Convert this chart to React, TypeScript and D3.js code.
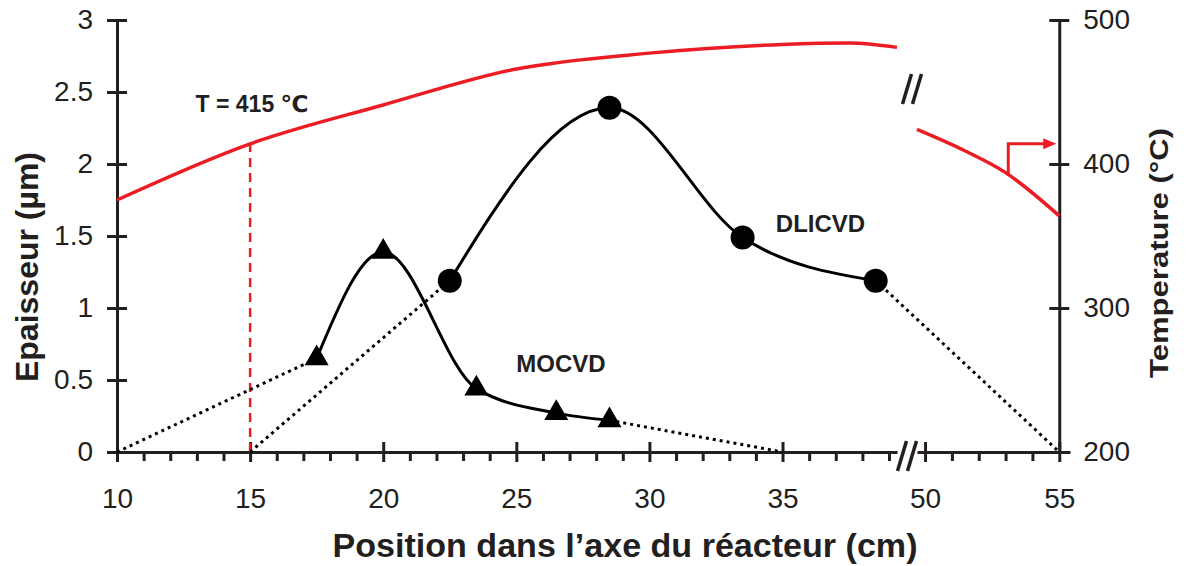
import { useEffect, useRef } from 'react'
import * as d3 from 'd3'

// thickness profiles (µm) along the reactor axis (cm)
const mocvdPos = [17.5, 20, 23.5, 26.5, 28.5]
const mocvdThk = [0.65, 1.39, 0.44, 0.27, 0.22]
const dlicvdPos = [22.5, 28.5, 33.5, 38.5]
const dlicvdThk = [1.19, 2.39, 1.49, 1.19]

// dotted extrapolations down to zero thickness
const mocvdDotted: [number, number][][] = [
  [[10, 0], [17.5, 0.65]],
  [[28.5, 0.22], [35, 0]]
]
const dlicvdDotted: [number, number][][] = [
  [[15, 0], [22.5, 1.19]],
  [[38.5, 1.19], [55, 0]]
]

// temperature profile (°C), two pieces on each side of the axis break
const tempPos1 = [10, 15, 20, 25, 30, 35, 37.5, 39.3]
const temp1 = [375, 414, 441, 466, 477, 483, 484, 481]
const tempPos2 = [49.7, 51.5, 53, 55]
const temp2 = [424, 409, 394, 364]

// axes
const xMajor1 = [10, 15, 20, 25, 30, 35]
const xMinor1 = d3.range(11, 40).filter(v => v % 5 !== 0)
const xMajor2 = [50, 55]
const xMinor2 = [51, 52, 53, 54]
const yTicks = [0, 0.5, 1, 1.5, 2, 2.5, 3]
const tTicks = [200, 300, 400, 500]

const FONT = '"Liberation Sans", Arial, Helvetica, "DejaVu Sans", sans-serif'
const INK = '#231f20'
const RED = '#ec1c24'

export default function App() {
  const ref = useRef<SVGSVGElement | null>(null)

  useEffect(() => {
    document.body.style.margin = '0'
    if (!ref.current) return
    const svg = d3.select(ref.current)
    svg.selectAll('*').remove()

    const x1 = d3.scaleLinear().domain([10, 39.3]).range([117, 897])
    const x2 = d3.scaleLinear().domain([49.7, 55.4]).range([917, 1070])
    const xp = (p: number) => (p < 45 ? x1(p) : x2(p))
    const y = d3.scaleLinear().domain([0, 3]).range([452, 20])
    const yT = d3.scaleLinear().domain([200, 500]).range([452, 20])
    const y0 = y(0)

    // x axis, in two pieces
    const drawX = (scale: d3.ScaleLinear<number, number>, majors: number[], minors: number[]) => {
      const g = svg.append('g').attr('transform', `translate(0,${y0})`)
      g.call(d3.axisBottom(scale).tickValues(minors).tickSize(9).tickSizeOuter(0).tickFormat(() => ''))
      g.select('.domain').attr('stroke', INK).attr('stroke-width', 3)
      g.selectAll('.tick line').attr('stroke', INK).attr('stroke-width', 3)

      const gm = svg.append('g').attr('transform', `translate(0,${y0})`)
      gm.call(d3.axisBottom(scale).tickValues(majors).tickSize(10).tickSizeOuter(0).tickFormat(d3.format('d')))
      gm.select('.domain').remove()
      gm.selectAll('.tick line').attr('y1', -10).attr('y2', 10).attr('stroke', INK).attr('stroke-width', 3)
      gm.selectAll('.tick text')
        .attr('y', 36)
        .attr('fill', INK)
        .style('font-size', '28px')
        .style('font-family', FONT)
    }
    drawX(x1, xMajor1, xMinor1)
    drawX(x2, xMajor2, xMinor2)

    // break marks on the x axis and on the temperature curve
    const gapL = x1.range()[1]
    const gapR = x2.range()[0]
    const breakMark = (cx: number, cy: number) => {
      ;[-5, 5].forEach(off => {
        svg.append('line')
          .attr('x1', cx + off - 4.5).attr('y1', cy + 15)
          .attr('x2', cx + off + 4.5).attr('y2', cy - 15)
          .attr('stroke', INK).attr('stroke-width', 3.5)
      })
    }
    breakMark((gapL + gapR) / 2, y0 + 4)
    breakMark((gapL + gapR) / 2 + 5, yT(452))

    // left axis
    const gl = svg.append('g').attr('transform', `translate(${x1(10)},0)`)
    gl.call(d3.axisLeft(y).tickValues(yTicks).tickSize(10).tickSizeOuter(0).tickFormat(d => String(d)))
    gl.select('.domain').attr('stroke', INK).attr('stroke-width', 3)
    gl.selectAll('.tick line').attr('x1', 10).attr('stroke', INK).attr('stroke-width', 3)
    gl.selectAll('.tick text')
      .attr('x', -24)
      .attr('fill', INK)
      .style('font-size', '28px')
      .style('font-family', FONT)

    // right axis
    const gr = svg.append('g').attr('transform', `translate(${x2(55)},0)`)
    gr.call(d3.axisRight(yT).tickValues(tTicks).tickSize(10).tickSizeOuter(0).tickFormat(d3.format('d')))
    gr.select('.domain').attr('stroke', INK).attr('stroke-width', 3)
    gr.selectAll('.tick line').attr('x1', -10).attr('stroke', INK).attr('stroke-width', 3)
    gr.selectAll('.tick text')
      .attr('x', 24)
      .attr('fill', INK)
      .style('font-size', '28px')
      .style('font-family', FONT)

    // temperature curve
    const tLine = d3.line<[number, number]>()
      .x(d => xp(d[0]))
      .y(d => yT(d[1]))
      .curve(d3.curveMonotoneX)
    ;[d3.zip(tempPos1, temp1), d3.zip(tempPos2, temp2)].forEach(seg => {
      svg.append('path')
        .datum(seg as [number, number][])
        .attr('fill', 'none')
        .attr('stroke', RED)
        .attr('stroke-width', 3.5)
        .attr('d', tLine)
    })

    // dashed marker at T = 415 °C
    svg.append('line')
      .attr('x1', x1(15)).attr('x2', x1(15))
      .attr('y1', y0).attr('y2', yT(414))
      .attr('stroke', RED)
      .attr('stroke-width', 2.5)
      .attr('stroke-dasharray', '9,6')

    // arrow pointing to the temperature axis
    const ax = x2(53.1)
    const ay = yT(414)
    const aEnd = x2(55) - 3
    svg.append('path')
      .attr('d', `M${ax},${yT(392)}V${ay}H${aEnd - 10}`)
      .attr('fill', 'none')
      .attr('stroke', RED)
      .attr('stroke-width', 3)
    svg.append('path')
      .attr('d', `M${aEnd},${ay}L${aEnd - 13},${ay - 5.5}L${aEnd - 13},${ay + 5.5}Z`)
      .attr('fill', RED)

    // dotted extrapolations
    const straight = d3.line<[number, number]>().x(d => xp(d[0])).y(d => y(d[1]))
    ;[...mocvdDotted, ...dlicvdDotted].forEach(seg => {
      svg.append('path')
        .datum(seg)
        .attr('fill', 'none')
        .attr('stroke', '#000')
        .attr('stroke-width', 3)
        .attr('stroke-dasharray', '3,4')
        .attr('d', straight)
    })

    // thickness curves
    const smooth = d3.line<[number, number]>()
      .x(d => xp(d[0]))
      .y(d => y(d[1]))
      .curve(d3.curveMonotoneX)
    const mocvd = d3.zip(mocvdPos, mocvdThk) as [number, number][]
    const dlicvd = d3.zip(dlicvdPos, dlicvdThk) as [number, number][]
    ;[mocvd, dlicvd].forEach(seg => {
      svg.append('path')
        .datum(seg)
        .attr('fill', 'none')
        .attr('stroke', '#000')
        .attr('stroke-width', 3)
        .attr('d', smooth)
    })

    svg.selectAll('.tri')
      .data(mocvd)
      .enter()
      .append('path')
      .attr('class', 'tri')
      .attr('transform', d => `translate(${xp(d[0])},${y(d[1])})`)
      .attr('d', d3.symbol(d3.symbolTriangle, 250))
      .attr('fill', '#000')

    svg.selectAll('.dot')
      .data(dlicvd)
      .enter()
      .append('circle')
      .attr('class', 'dot')
      .attr('cx', d => xp(d[0]))
      .attr('cy', d => y(d[1]))
      .attr('r', 12)
      .attr('fill', '#000')

    // annotations
    const label = (txt: string, x: number, yy: number, size: number) =>
      svg.append('text')
        .attr('x', x).attr('y', yy)
        .attr('fill', INK)
        .style('font-family', FONT)
        .style('font-weight', 'bold')
        .style('font-size', `${size}px`)
        .text(txt)
    label('T = 415 ℃', x1(12.95), y(2.36), 23)
    label('MOCVD', x1(25.0), y(0.555), 24)
    label('DLICVD', x1(34.75), y(1.53), 24)

    // axis titles
    svg.append('text')
      .attr('x', 625).attr('y', 557)
      .attr('text-anchor', 'middle')
      .attr('textLength', 585)
      .attr('lengthAdjust', 'spacingAndGlyphs')
      .attr('fill', INK)
      .style('font-family', FONT)
      .style('font-weight', 'bold')
      .style('font-size', '34px')
      .text('Position dans l’axe du réacteur (cm)')

    svg.append('text')
      .attr('transform', 'translate(38,267) rotate(-90)')
      .attr('text-anchor', 'middle')
      .attr('fill', INK)
      .style('font-family', FONT)
      .style('font-weight', 'bold')
      .style('font-size', '32px')
      .text('Epaisseur (µm)')

    svg.append('text')
      .attr('transform', 'translate(1168,253) rotate(-90)')
      .attr('text-anchor', 'middle')
      .attr('textLength', 250)
      .attr('lengthAdjust', 'spacingAndGlyphs')
      .attr('fill', INK)
      .style('font-family', FONT)
      .style('font-weight', 'bold')
      .style('font-size', '25px')
      .text('Temperature (°C)')
  }, [])

  return (
    <svg
      ref={ref}
      width={1188}
      height={566}
      viewBox="0 0 1188 566"
      style={{ display: 'block', background: '#fff' }}
    />
  )
}
